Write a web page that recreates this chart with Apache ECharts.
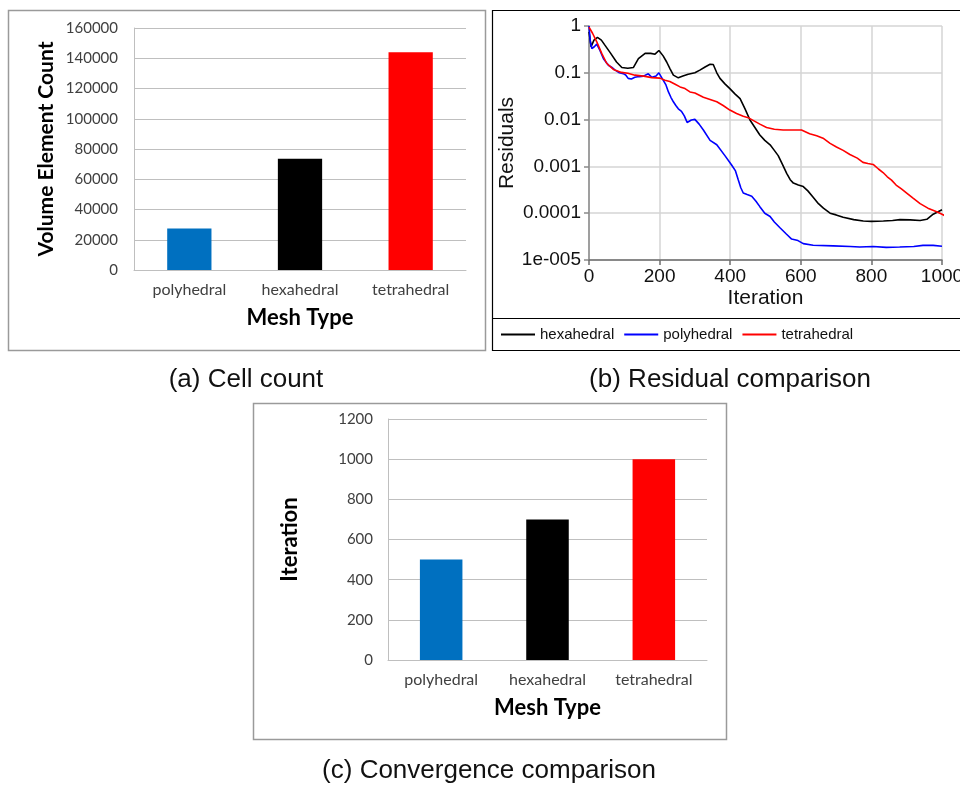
<!DOCTYPE html>
<html>
<head>
<meta charset="utf-8">
<script src="https://cdn.jsdelivr.net/npm/echarts@6/dist/echarts.min.js"></script>
<style>
  html, body { margin: 0; padding: 0; background: #ffffff; }
  #chart { width: 960px; height: 787px; }
</style>
</head>
<body>
<div id="chart"></div>
<script>
// Mesh types compared in the three panels
const meshTypes = ['polyhedral', 'hexahedral', 'tetrahedral'];

// (a) number of volume elements per mesh
const cellCounts = [27500, 73500, 144000];

// (c) iterations needed to converge
const convergenceIterations = [500, 700, 1000];

// (b) residual tick labels, one per decade from 1e-5 up to 1
const residualTicks = ['1e-005', '0.0001', '0.001', '0.01', '0.1', '1'];

// (b) residual histories: [iteration, residual]
const hexResiduals = [
  [0, 0.75], [6, 0.36], [14, 0.5], [24, 0.57], [35, 0.5], [45, 0.39], [60, 0.27], [78, 0.17],
  [93, 0.13], [110, 0.125], [126, 0.13], [140, 0.2], [159, 0.26], [175, 0.26], [187, 0.25],
  [198, 0.3], [210, 0.23], [220, 0.17], [230, 0.12], [239, 0.089], [253, 0.078], [266, 0.085],
  [281, 0.093], [300, 0.1], [314, 0.114], [330, 0.135], [343, 0.152], [352, 0.15], [362, 0.1],
  [371, 0.076], [385, 0.058], [399, 0.046], [414, 0.035], [428, 0.028], [442, 0.017],
  [456, 0.0098], [470, 0.0068], [484, 0.0047], [498, 0.0036], [513, 0.0029], [525, 0.0022],
  [536, 0.0017], [548, 0.0011], [560, 0.00071], [570, 0.00052], [579, 0.00044], [593, 0.0004],
  [607, 0.00037], [620, 0.0003], [635, 0.00022], [650, 0.00016], [664, 0.000128], [683, 0.0001],
  [700, 0.000092], [720, 0.000082], [750, 0.000073], [777, 0.000068], [800, 0.000067],
  [834, 0.000068], [860, 0.00007], [881, 0.000073], [910, 0.000072], [938, 0.00007],
  [957, 0.000074], [975, 0.000095], [1000, 0.000118]
];

const polyResiduals = [
  [0, 1], [4, 0.45], [8, 0.33], [15, 0.36], [22, 0.41], [31, 0.3], [41, 0.2], [55, 0.145],
  [65, 0.13], [74, 0.114], [86, 0.1], [97, 0.096], [104, 0.09], [111, 0.076], [120, 0.074],
  [130, 0.08], [142, 0.083], [154, 0.085], [168, 0.095], [178, 0.08], [190, 0.085], [198, 0.1],
  [210, 0.07], [218, 0.055], [225, 0.039], [232, 0.03], [239, 0.024], [246, 0.02], [253, 0.017],
  [262, 0.015], [270, 0.012], [278, 0.0087], [290, 0.0098], [300, 0.0101], [312, 0.008],
  [324, 0.006], [343, 0.0036], [362, 0.0029], [385, 0.0017], [404, 0.00107], [415, 0.0008],
  [423, 0.00051], [430, 0.00035], [437, 0.00027], [448, 0.00025], [461, 0.00023], [473, 0.00018],
  [484, 0.000138], [498, 0.0001], [513, 0.000085], [525, 0.000065], [541, 0.000049],
  [559, 0.000036], [574, 0.000028], [592, 0.000026], [607, 0.0000224], [635, 0.0000206],
  [692, 0.00002], [740, 0.0000195], [767, 0.000019], [805, 0.0000195], [842, 0.0000186],
  [880, 0.000019], [920, 0.0000195], [946, 0.0000205], [975, 0.0000205], [1000, 0.0000197]
];

const tetResiduals = [
  [0, 0.95], [10, 0.7], [22, 0.46], [36, 0.26], [50, 0.16], [69, 0.118], [92, 0.102],
  [110, 0.098], [130, 0.089], [155, 0.085], [178, 0.079], [201, 0.077], [215, 0.069],
  [229, 0.065], [244, 0.057], [258, 0.05], [272, 0.046], [286, 0.039], [300, 0.037], [324, 0.03],
  [343, 0.027], [362, 0.024], [380, 0.02], [399, 0.016], [418, 0.0135], [437, 0.0118],
  [451, 0.011], [461, 0.01], [484, 0.008], [503, 0.0068], [525, 0.0062], [550, 0.006],
  [575, 0.006], [602, 0.006], [625, 0.005], [645, 0.0045], [663, 0.004], [683, 0.0031],
  [701, 0.0026], [720, 0.0022], [739, 0.0018], [760, 0.0015], [776, 0.00122], [790, 0.00115],
  [805, 0.0011], [820, 0.00088], [833, 0.00074], [845, 0.0006], [857, 0.00051], [870, 0.0004],
  [885, 0.00033], [900, 0.00027], [918, 0.00021], [938, 0.00016], [960, 0.000128],
  [985, 0.000107], [1000, 0.000095], [1027, 0.000075]
];

// Styling
const meshColors = { polyhedral: '#0070c0', hexahedral: '#000000', tetrahedral: '#ff0000' };
const lineColors = { hexahedral: '#000000', polyhedral: '#0000ff', tetrahedral: '#ff0000' };
const officeFont = 'Lato';
const plotFont = 'Liberation Sans';
const plainNumber = v => String(v);

function barData(values) {
  return meshTypes.map((m, i) => ({ value: values[i], itemStyle: { color: meshColors[m] } }));
}

function categoryAxis(gridIndex) {
  return {
    type: 'category', gridIndex: gridIndex, data: meshTypes,
    axisLine: { show: true, lineStyle: { color: '#bfbfbf', width: 1 } },
    axisTick: { show: false },
    axisLabel: { margin: 12, fontSize: 16, color: '#404040', fontFamily: officeFont },
    name: 'Mesh Type', nameLocation: 'middle', nameGap: 37,
    nameTextStyle: { fontFamily: officeFont, fontWeight: 'bold', fontSize: 22, color: '#000' }
  };
}

function countAxis(gridIndex, max, interval, name, nameGap, margin, nameSize) {
  return {
    type: 'value', gridIndex: gridIndex, min: 0, max: max, interval: interval,
    axisLine: { show: true, lineStyle: { color: '#bfbfbf', width: 1 } },
    axisTick: { show: false },
    splitLine: { show: true, lineStyle: { color: '#bfbfbf', width: 1 } },
    axisLabel: { margin: margin, fontSize: 15, color: '#404040', fontFamily: officeFont,
      formatter: plainNumber },
    name: name, nameLocation: 'middle', nameGap: nameGap, nameRotate: 90,
    nameTextStyle: { fontFamily: officeFont, fontWeight: 'bold', fontSize: nameSize, color: '#000' }
  };
}

function residualSeries(name, data, clip) {
  return {
    type: 'line', name: name, xAxisIndex: 1, yAxisIndex: 1, data: data,
    symbol: 'none', clip: clip, animation: false,
    lineStyle: { color: lineColors[name], width: 1.6 },
    itemStyle: { color: lineColors[name] }
  };
}

const chart = echarts.init(document.getElementById('chart'), null, { renderer: 'canvas' });

chart.setOption({
  animation: false,
  backgroundColor: '#ffffff',
  grid: [
    { left: 134, top: 28, width: 332, height: 242, outerBoundsMode: 'none' },
    { left: 589, top: 26, width: 353, height: 234, outerBoundsMode: 'none' },
    { left: 388, top: 419, width: 319, height: 241, outerBoundsMode: 'none' }
  ],
  xAxis: [
    categoryAxis(0),
    {
      type: 'value', gridIndex: 1, min: 0, max: 1000, interval: 200,
      axisLine: { show: true, onZero: false, lineStyle: { color: '#6e6e6e', width: 1.5 } },
      axisTick: { show: true, length: 5, lineStyle: { color: '#6e6e6e', width: 1.5 } },
      splitLine: { show: true, lineStyle: { color: '#d4d4d4', width: 1.5 } },
      axisLabel: { margin: 7, fontSize: 19, color: '#111', fontFamily: plotFont,
        formatter: plainNumber },
      name: 'Iteration', nameLocation: 'middle', nameGap: 28,
      nameTextStyle: { fontFamily: plotFont, fontSize: 21, color: '#111' }
    },
    categoryAxis(2)
  ],
  yAxis: [
    countAxis(0, 160000, 20000, 'Volume Element Count', 77, 16, 21),
    {
      type: 'log', logBase: 10, gridIndex: 1, min: 0.00001, max: 1, splitNumber: 5,
      axisLine: { show: true, onZero: false, lineStyle: { color: '#8a8a8a', width: 1.5 } },
      axisTick: { show: true, length: 5, lineStyle: { color: '#8a8a8a', width: 1.5 } },
      splitLine: { show: true, lineStyle: { color: '#d4d4d4', width: 1.5 } },
      axisLabel: {
        margin: 8, fontSize: 19, color: '#111', fontFamily: plotFont,
        formatter: function (v) { return residualTicks[Math.round(Math.log10(v)) + 5]; }
      },
      name: 'Residuals', nameLocation: 'middle', nameGap: 68, nameRotate: 90,
      nameTextStyle: { fontFamily: plotFont, fontSize: 21, color: '#111' }
    },
    countAxis(2, 1200, 200, 'Iteration', 87, 15, 22)
  ],
  legend: {
    data: ['hexahedral', 'polyhedral', 'tetrahedral'],
    icon: 'rect',
    left: 496, top: 322, itemWidth: 34, itemHeight: 2, itemGap: 10,
    textStyle: { fontFamily: plotFont, fontSize: 15, color: '#111' }
  },
  series: [
    {
      type: 'bar', xAxisIndex: 0, yAxisIndex: 0, barWidth: '40%',
      data: barData(cellCounts), animation: false
    },
    residualSeries('hexahedral', hexResiduals, true),
    residualSeries('polyhedral', polyResiduals, true),
    residualSeries('tetrahedral', tetResiduals, false),
    {
      type: 'bar', xAxisIndex: 2, yAxisIndex: 2, barWidth: '40%',
      data: barData(convergenceIterations), animation: false
    }
  ],
  graphic: [
    { type: 'rect', z: -1, shape: { x: 8.5, y: 10.5, width: 477, height: 340 },
      style: { fill: 'none', stroke: '#9a9a9a', lineWidth: 1.5 } },
    { type: 'rect', z: -1, shape: { x: 492.5, y: 10.5, width: 480, height: 340 },
      style: { fill: 'none', stroke: '#000000', lineWidth: 1.2 } },
    { type: 'line', z: -1, shape: { x1: 492.5, y1: 318.5, x2: 960, y2: 318.5 },
      style: { stroke: '#000000', lineWidth: 1.2 } },
    { type: 'rect', z: -1, shape: { x: 253.5, y: 403.5, width: 473, height: 336 },
      style: { fill: 'none', stroke: '#9a9a9a', lineWidth: 1.5 } },
    { type: 'text', style: { text: '(a) Cell count', x: 246, y: 380, fontSize: 26,
      fontFamily: plotFont, align: 'center', verticalAlign: 'middle', fill: '#111' } },
    { type: 'text', style: { text: '(b) Residual comparison', x: 730, y: 380, fontSize: 26,
      fontFamily: plotFont, align: 'center', verticalAlign: 'middle', fill: '#111' } },
    { type: 'text', style: { text: '(c) Convergence comparison', x: 489, y: 771, fontSize: 26,
      fontFamily: plotFont, align: 'center', verticalAlign: 'middle', fill: '#111' } }
  ]
});
</script>
</body>
</html>
